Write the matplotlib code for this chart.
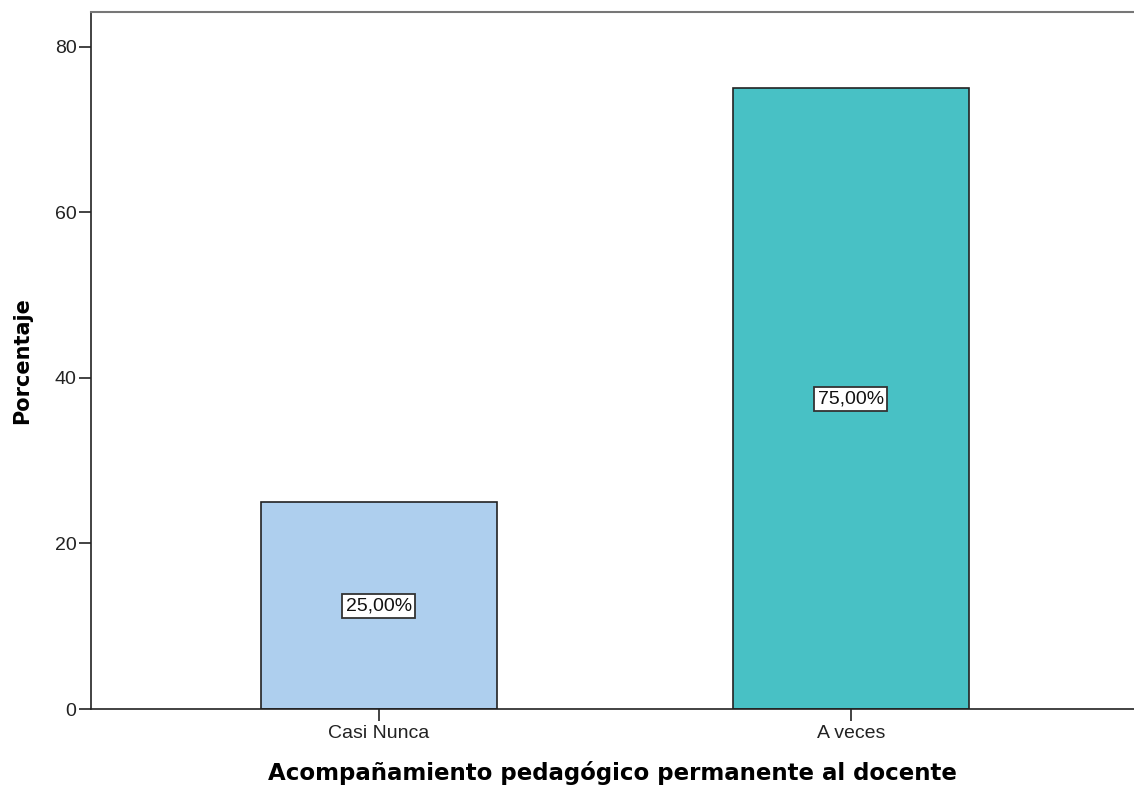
import matplotlib
matplotlib.use("Agg")
from matplotlib import pyplot as plt

categories = ['Casi Nunca', 'A veces']
percent = [25.0, 75.0]
bar_colors = ['#AECFEE', '#48C1C5']

plt.rcParams['font.family'] = ['Liberation Sans', 'DejaVu Sans']

fig = plt.figure(figsize=(11.34, 7.87), dpi=100)
ax = fig.add_axes([91 / 1134, 1 - 709 / 787, 1 - 91 / 1134, (709 - 12) / 787])

x = list(range(len(categories)))
ax.bar(x, percent, width=0.5, color=bar_colors, edgecolor='#222222', linewidth=1.2, zorder=2)

for xi, v in zip(x, percent):
    ax.text(xi, v / 2, f'{v:.2f}%'.replace('.', ','), ha='center', va='center', fontsize=14,
            color='#111111',
            bbox=dict(boxstyle='square,pad=0.18', facecolor='white', edgecolor='#333333', linewidth=1.3))

ax.set_xlim(-0.61, 1.6)
ax.set_ylim(0, 84.2)
ax.set_yticks([0, 20, 40, 60, 80])
ax.set_xticks(x)
ax.set_xticklabels(categories)
ax.tick_params(axis='both', labelsize=14, length=8.5, width=1.2, colors='#222222', labelcolor='#222222')
ax.tick_params(axis='y', pad=2)
ax.tick_params(axis='x', pad=3)

ax.spines['right'].set_visible(False)
ax.spines['top'].set_color('#777777')
ax.spines['top'].set_linewidth(1.5)
for s in ['left', 'bottom']:
    ax.spines[s].set_color('#222222')
    ax.spines[s].set_linewidth(1.2)

ax.set_ylabel('Porcentaje', fontsize=15, fontweight='bold', family='DejaVu Sans', labelpad=16)
ax.set_xlabel('Acompañamiento pedagógico permanente al docente', fontsize=16.5, fontweight='bold',
              family='DejaVu Sans', labelpad=14)

fig.savefig('out.png', dpi=100)
